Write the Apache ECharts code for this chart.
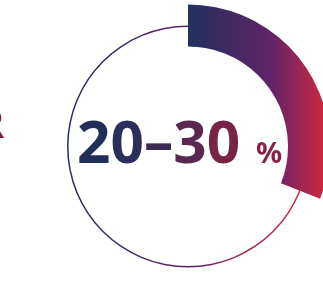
<!DOCTYPE html>
<html>
<head>
<meta charset="utf-8">
<script src="https://cdn.jsdelivr.net/npm/echarts@6/dist/echarts.min.js"></script>
<style>
  html, body { margin: 0; padding: 0; background: #fff; }
  #main { width: 323px; height: 281px; }
</style>
</head>
<body>
<div id="main"></div>
<script>
  const rangeValues = [20, 30];
  const arcValue = 31;
  const totalValue = 100;
  const unitLabel = '%';
  const sideLetter = 'R';

  const navy = '#23305f';
  const purple = '#5f2468';
  const red = '#d8283a';
  // one colour per character of "20–30", fading navy -> maroon
  const charColors = ['#212f58', '#2c2f5a', '#3d2c56', '#5a2850', '#782447'];

  var myChart = echarts.init(document.getElementById('main'));

  const rangeText = rangeValues[0] + '–' + rangeValues[1];
  const rich = {};
  const parts = rangeText.split('').map((ch, i) => {
    rich['c' + i] = { fill: charColors[i], fontSize: 58.5, fontWeight: 'bold', fontFamily: 'Noto Sans' };
    return '{c' + i + '|' + ch + '}';
  });

  myChart.setOption({
    animation: false,
    series: [
      {
        // thin ring
        type: 'pie',
        silent: true,
        center: [188, 146.5],
        radius: [119.5, 121],
        startAngle: 90,
        label: { show: false },
        itemStyle: {
          color: new echarts.graphic.LinearGradient(0, 0, 1, 0, [
            { offset: 0, color: navy },
            { offset: 0.5, color: purple },
            { offset: 1, color: red }
          ])
        },
        data: [{ value: totalValue }]
      },
      {
        // thick arc
        type: 'pie',
        silent: true,
        center: [188, 146.5],
        radius: [100, 142],
        startAngle: 90,
        clockwise: true,
        label: { show: false },
        data: [
          {
            value: arcValue,
            itemStyle: {
              color: new echarts.graphic.LinearGradient(0, 0, 1, 0, [
                { offset: 0, color: navy },
                { offset: 0.58, color: purple },
                { offset: 1, color: red }
              ])
            }
          },
          { value: totalValue - arcValue, itemStyle: { color: 'transparent' } }
        ]
      }
    ],
    graphic: [
      {
        type: 'text',
        left: 77,
        top: 117,
        style: {
          text: parts.join(''),
          rich: rich
        }
      },
      {
        type: 'text',
        left: 256,
        top: 140,
        style: {
          text: unitLabel,
          font: 'bold 29px "Noto Sans"',
          fill: '#8a2149'
        }
      },
      {
        type: 'text',
        left: -22,
        top: 107,
        style: {
          text: sideLetter,
          font: 'bold 40px "Noto Sans"',
          fill: '#7c2046'
        }
      }
    ]
  });
</script>
</body>
</html>
